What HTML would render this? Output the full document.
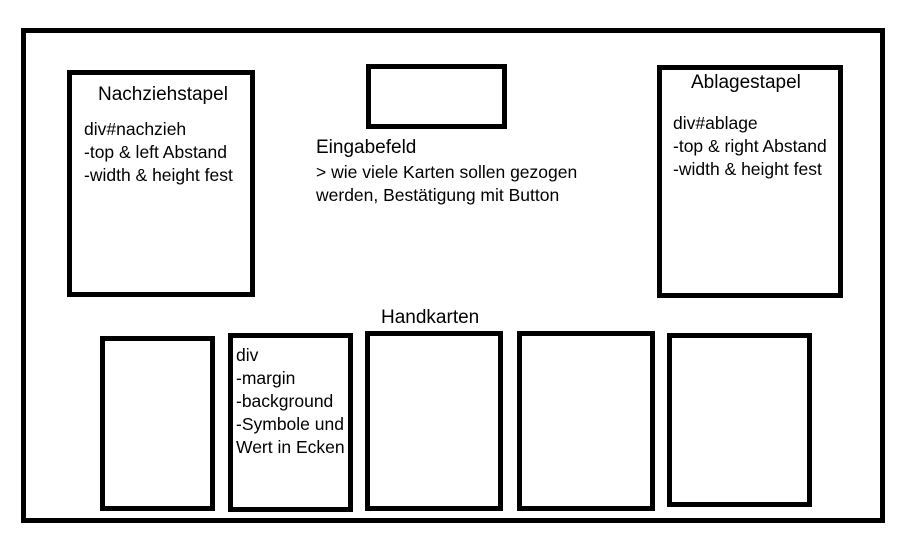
<!DOCTYPE html>
<html><head><meta charset="utf-8"><style>
body{margin:0;width:918px;height:548px;background:#fff;position:relative;overflow:hidden;font-family:"Liberation Sans",sans-serif;font-size:17.5px;color:#000}
.b{position:absolute;border:5px solid #000;box-sizing:border-box}
.t{position:absolute;line-height:23px;white-space:nowrap}
</style></head><body>
<div class="b" style="left:21px;top:28px;width:864px;height:495px"></div>
<div class="b" style="left:67px;top:70px;width:188px;height:227px"></div>
<div class="b" style="left:366px;top:64px;width:141px;height:65px"></div>
<div class="b" style="left:657px;top:65px;width:186px;height:233px"></div>
<div class="b" style="left:100px;top:336px;width:115px;height:175px"></div>
<div class="b" style="left:228px;top:333px;width:125px;height:179px"></div>
<div class="b" style="left:365px;top:331px;width:138px;height:180px"></div>
<div class="b" style="left:517px;top:331px;width:138px;height:180px"></div>
<div class="b" style="left:667px;top:333px;width:145px;height:174px"></div>
<div class="t" style="left:98px;top:83px;font-size:19px">Nachziehstapel</div>
<div class="t" style="left:84px;top:118px">div#nachzieh<br>-top &amp; left Abstand<br>-width &amp; height fest</div>
<div class="t" style="left:691px;top:71px;font-size:19px">Ablagestapel</div>
<div class="t" style="left:673px;top:112px">div#ablage<br>-top &amp; right Abstand<br>-width &amp; height fest</div>
<div class="t" style="left:316px;top:136px;font-size:19px">Eingabefeld</div>
<div class="t" style="left:316px;top:161px">&gt; wie viele Karten sollen gezogen<br>werden, Bestätigung mit Button</div>
<div class="t" style="left:381px;top:306px;font-size:19px">Handkarten</div>
<div class="t" style="left:236px;top:344px">div<br>-margin<br>-background<br>-Symbole und<br>Wert in Ecken</div>
</body></html>
